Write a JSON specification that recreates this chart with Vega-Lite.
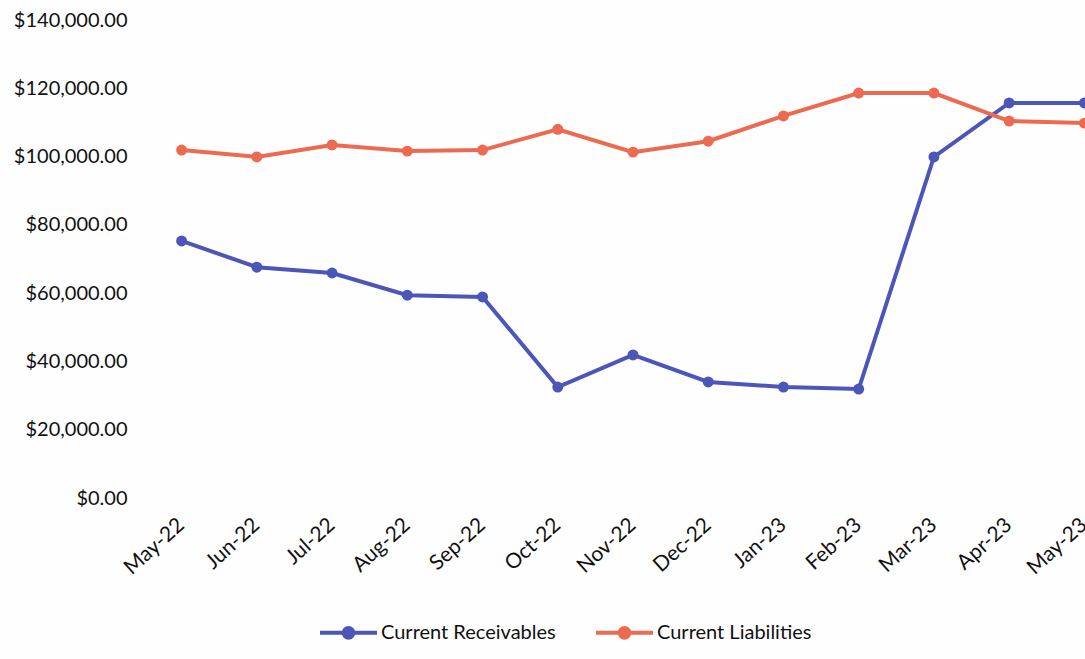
{
  "$schema": "https://vega.github.io/schema/vega-lite/v6.json",
  "autosize": "none",
  "padding": {"left": 144, "top": 20, "right": 0, "bottom": 161},
  "width": 941,
  "height": 478,
  "background": "#fefefe",
  "config": {
    "view": {"stroke": null},
    "font": "Lato",
    "axis": {"labelFont": "Lato", "labelColor": "#111111", "grid": false, "domain": false, "ticks": false, "labelOverlap": false, "labelBound": false, "labelFlush": false, "labelLimit": 0}
  },
  "data": {
    "values": [
      {"month": "May-22", "series": "Current Receivables", "value": 75300},
      {"month": "Jun-22", "series": "Current Receivables", "value": 67600},
      {"month": "Jul-22", "series": "Current Receivables", "value": 65900},
      {"month": "Aug-22", "series": "Current Receivables", "value": 59400},
      {"month": "Sep-22", "series": "Current Receivables", "value": 58900},
      {"month": "Oct-22", "series": "Current Receivables", "value": 32500},
      {"month": "Nov-22", "series": "Current Receivables", "value": 41900},
      {"month": "Dec-22", "series": "Current Receivables", "value": 34000},
      {"month": "Jan-23", "series": "Current Receivables", "value": 32500},
      {"month": "Feb-23", "series": "Current Receivables", "value": 31900},
      {"month": "Mar-23", "series": "Current Receivables", "value": 99900},
      {"month": "Apr-23", "series": "Current Receivables", "value": 115700},
      {"month": "May-23", "series": "Current Receivables", "value": 115700},
      {"month": "May-22", "series": "Current Liabilities", "value": 101900},
      {"month": "Jun-22", "series": "Current Liabilities", "value": 99900},
      {"month": "Jul-22", "series": "Current Liabilities", "value": 103400},
      {"month": "Aug-22", "series": "Current Liabilities", "value": 101600},
      {"month": "Sep-22", "series": "Current Liabilities", "value": 101900},
      {"month": "Oct-22", "series": "Current Liabilities", "value": 108000},
      {"month": "Nov-22", "series": "Current Liabilities", "value": 101300},
      {"month": "Dec-22", "series": "Current Liabilities", "value": 104500},
      {"month": "Jan-23", "series": "Current Liabilities", "value": 111900},
      {"month": "Feb-23", "series": "Current Liabilities", "value": 118600},
      {"month": "Mar-23", "series": "Current Liabilities", "value": 118600},
      {"month": "Apr-23", "series": "Current Liabilities", "value": 110400},
      {"month": "May-23", "series": "Current Liabilities", "value": 109800}
    ]
  },
  "mark": {"type": "line", "strokeWidth": 4, "point": {"filled": true, "size": 120, "opacity": 1}},
  "encoding": {
    "x": {
      "field": "month",
      "type": "ordinal",
      "sort": null,
      "scale": {"type": "band", "range": [0, 978], "paddingInner": 0, "paddingOuter": 0},
      "axis": {"title": null, "labelAngle": -42, "labelFontSize": 21, "labelPadding": 24, "labelAlign": "right", "labelBaseline": "middle"}
    },
    "y": {
      "field": "value",
      "type": "quantitative",
      "scale": {"domain": [0, 140000], "nice": false, "zero": true},
      "axis": {"title": null, "format": "$,.2f", "values": [0, 20000, 40000, 60000, 80000, 100000, 120000, 140000], "labelFontSize": 20, "labelPadding": 17}
    },
    "color": {
      "field": "series",
      "type": "nominal",
      "sort": ["Current Receivables", "Current Liabilities"],
      "scale": {"domain": ["Current Receivables", "Current Liabilities"], "range": ["#4c55b8", "#ec6a50"]},
      "legend": {
        "title": null,
        "orient": "none",
        "direction": "horizontal",
        "legendX": 174,
        "legendY": 582,
        "labelFontSize": 20,
        "labelFont": "Lato",
        "labelColor": "#111111",
        "labelLimit": 0,
        "symbolType": "M-1,0L1,0M-0.17,0A0.17,0.17,0,1,0,0.17,0A0.17,0.17,0,1,0,-0.17,0",
        "symbolSize": 3249,
        "symbolStrokeWidth": 4,
        "symbolOffset": 0,
        "columnPadding": 32,
        "labelOffset": 2,
        "encode": {"symbols": {"update": {"fill": {"scale": "color", "field": "value"}, "fillOpacity": {"value": 1}}}}
      }
    }
  }
}
